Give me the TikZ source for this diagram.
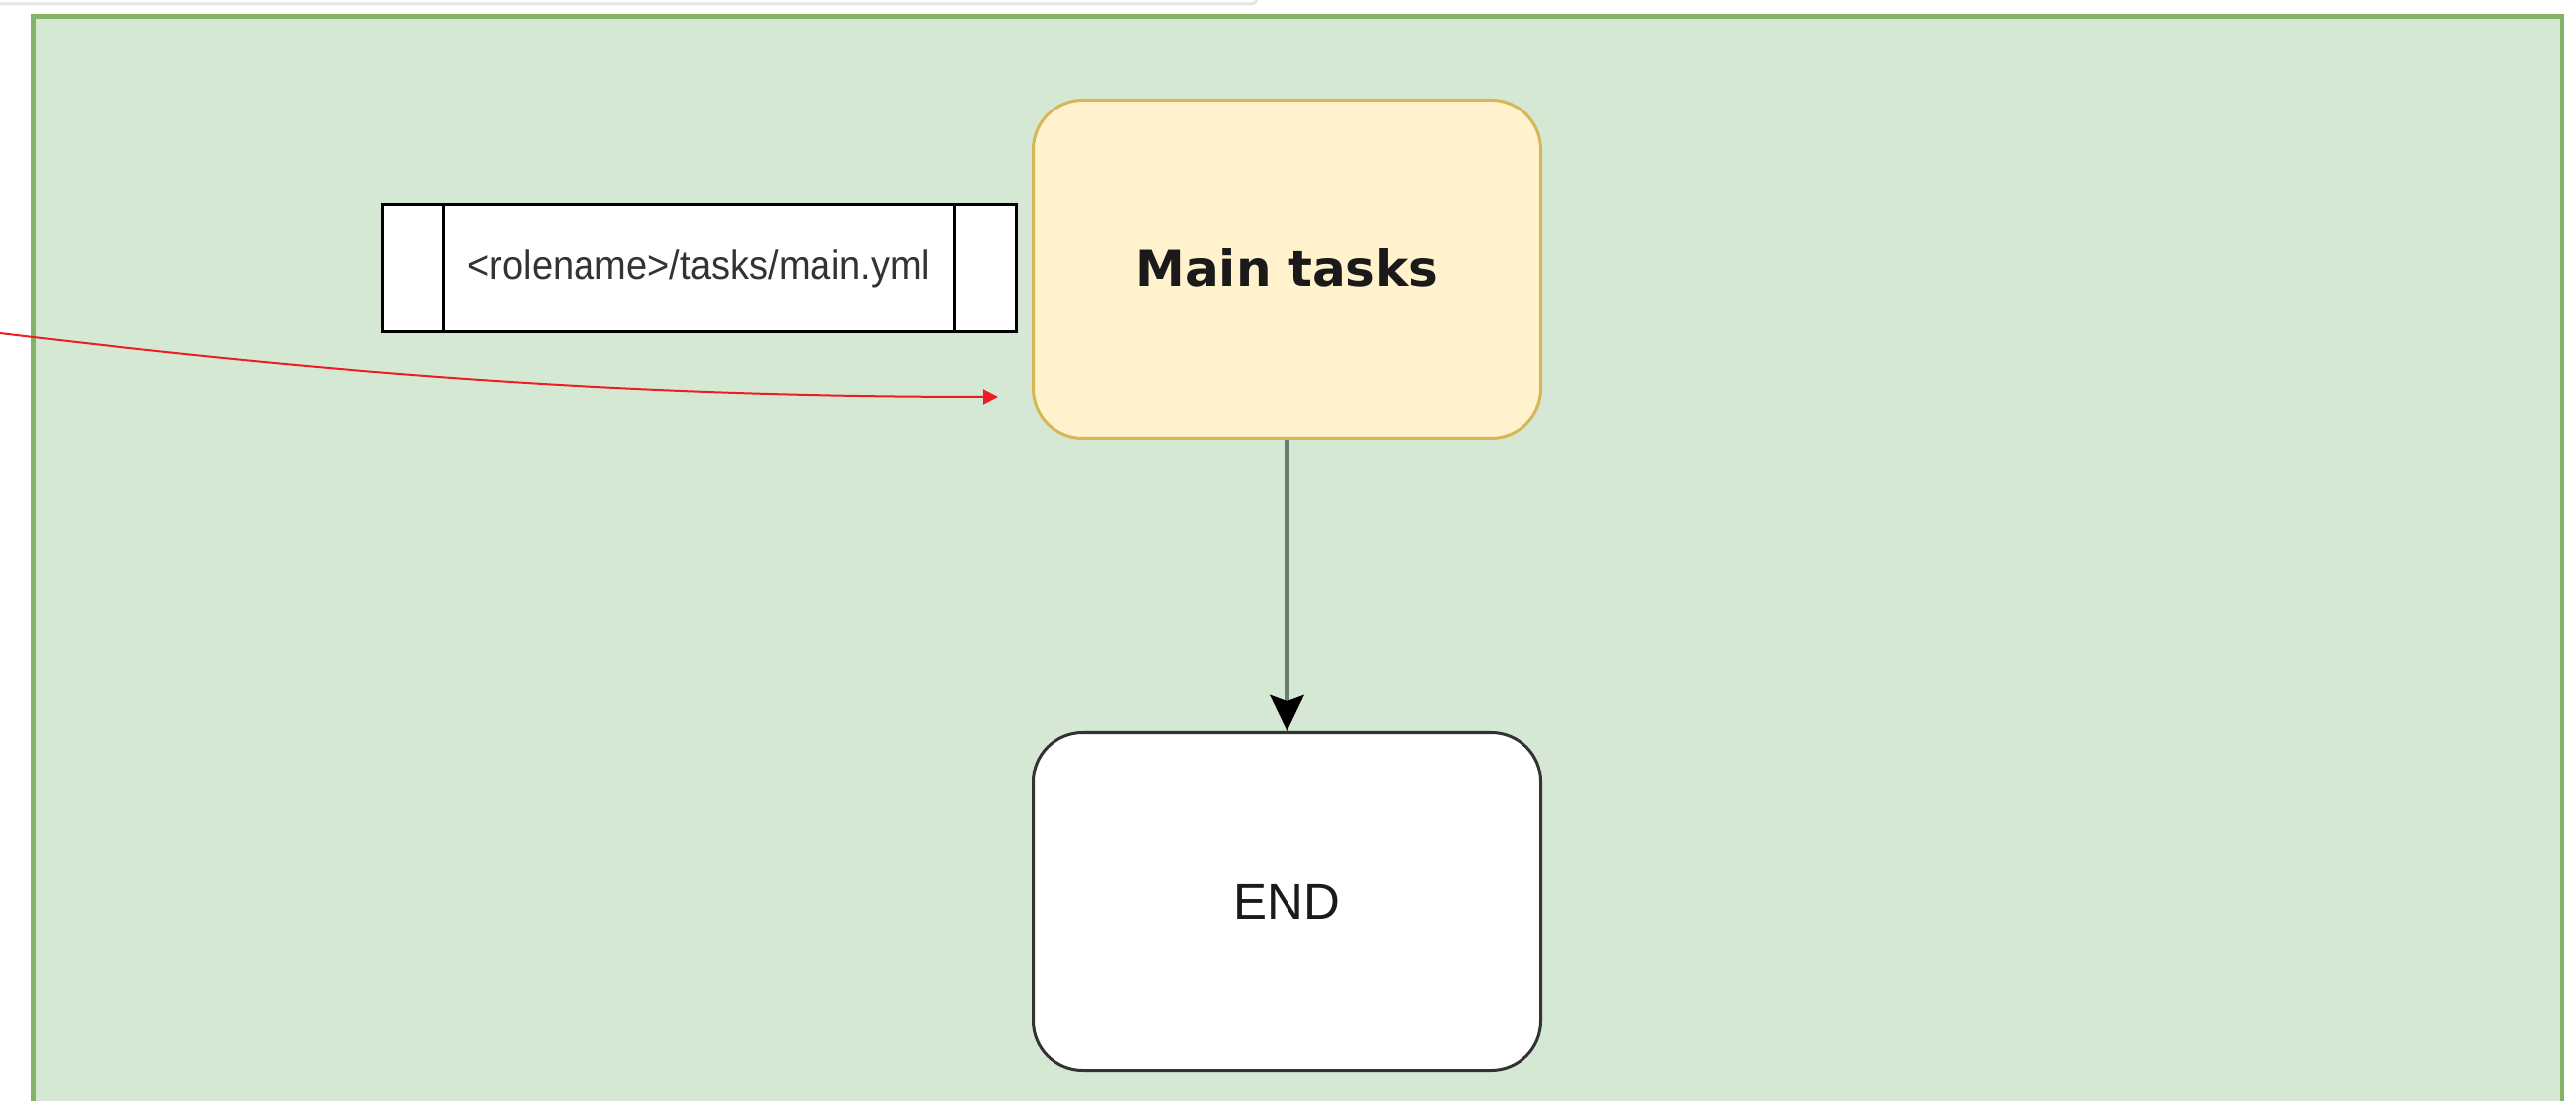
\documentclass[tikz,border=0pt]{standalone}
\usepackage{fontspec}
\setmainfont{Liberation Sans}
\newfontfamily\djv{DejaVu Sans}
\usetikzlibrary{arrows.meta,calc}
\definecolor{greenfill}{HTML}{D5E8D4}
\definecolor{greenline}{HTML}{82B366}
\definecolor{yelfill}{HTML}{FFF2CC}
\definecolor{yelline}{HTML}{D6B656}
\definecolor{topgray}{HTML}{E3E5E9}
\definecolor{flowgray}{HTML}{6B7B6F}
\definecolor{redline}{HTML}{EE1C25}
\definecolor{txtdark}{HTML}{1A1A1A}
\tikzset{
  bigbox/.style={rectangle, rounded corners=25pt, minimum width=255pt, minimum height=170pt, inner sep=0pt, line width=1.5pt},
  taskbox/.style={bigbox, fill=yelfill, draw=yelline, text=txtdark, font=\djv\bfseries\fontsize{25pt}{30pt}\selectfont},
  endbox/.style={bigbox, fill=white, draw=black!80, text=txtdark, font=\fontsize{25.5pt}{30pt}\selectfont},
  docbox/.style={rectangle, minimum width=318pt, minimum height=64pt, inner sep=0pt, fill=white, draw=black, line width=1.5pt, text=black!80, font=\fontsize{19pt}{23pt}\selectfont},
  flowarrow/.style={draw=flowgray, line width=2.8pt, -{Stealth[length=18pt, width=17pt, inset=3pt, color=black]}},
  redarrow/.style={draw=redline, line width=1pt, -{Triangle[length=7.5pt, width=7.5pt, color=redline]}},
}
\begin{document}
\begin{tikzpicture}[x=0.5pt, y=-0.5pt]
\useasboundingbox (0,0) rectangle (2587,1106);
\clip (0,0) rectangle (2587,1106);
% top gray strip edge
\draw[topgray, line width=1.5pt] (0,4) -- (1256,4) arc[start angle=90, end angle=0, radius=6] -- (1262,-4);
% green container
\draw[fill=greenfill, draw=greenline, line width=2.4pt] (33.5,16.5) rectangle (2573,1130);
% nodes
\node[taskbox] (main) at (1292.5,270.5) {\raisebox{1.5pt}{Main tasks}};
\node[endbox] (end) at (1292.5,905.5) {END};
\node[docbox] (doc) at (702,270) {\scalebox{1}[1.08]{<rolename>/tasks/main.yml}};
\draw[line width=1.5pt] ($(doc.north west)+(63,0)$) -- ($(doc.south west)+(63,0)$);
\draw[line width=1.5pt] ($(doc.north east)+(-63,0)$) -- ($(doc.south east)+(-63,0)$);
% connectors
\draw[flowarrow] (main.south) -- (end.north);
\coordinate (redstart) at (0,335);
\coordinate (redend) at (1002,399);
\draw[redarrow] (redstart) .. controls (300,371) and (600,399) .. (redend);
\end{tikzpicture}
\end{document}
